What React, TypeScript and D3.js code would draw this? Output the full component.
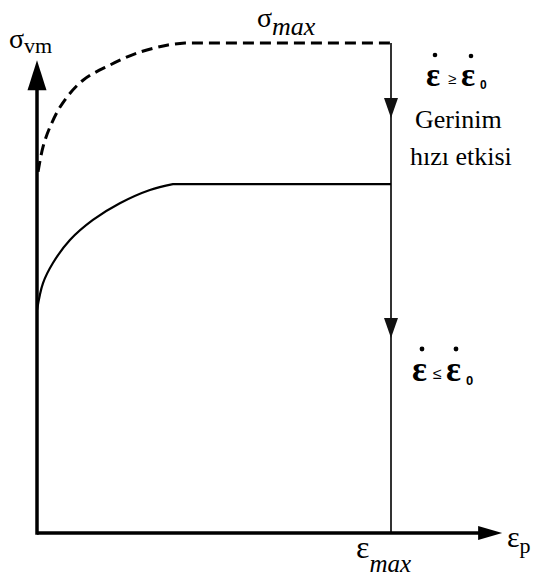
import React from "react";
import * as d3 from "d3";

// Normalised plastic strain (εp / εmax) and von Mises stress (σ / σmax)
const highRateStrain = [0.003, 0.017, 0.037, 0.073, 0.13, 0.206, 0.285, 0.37, 0.418, 1.0];
const highRateStress = [0.737, 0.788, 0.829, 0.878, 0.924, 0.955, 0.98, 0.996, 1.0, 1.0];

const lowRateStrain = [0.0, 0.017, 0.045, 0.093, 0.158, 0.234, 0.319, 0.384, 1.0];
const lowRateStress = [0.455, 0.51, 0.551, 0.598, 0.639, 0.673, 0.7, 0.712, 0.712];

const AXIS_X_END = 1.314; // εp axis extent, in εmax units
const AXIS_Y_END = 0.965; // σvm axis extent, in σmax units
const STRAIN_MAX = 1.0;
const STRESS_MAX = 1.0;

const W = 541;
const H = 576;

export default function App() {
  const x = d3.scaleLinear().domain([0, 1]).range([37, 391]);
  const y = d3.scaleLinear().domain([0, 1]).range([533, 43]);

  const toPts = (xs: number[], ys: number[]) => xs.map((v, i) => [v, ys[i]] as [number, number]);
  const curve = d3
    .line<[number, number]>()
    .x((d) => x(d[0]))
    .y((d) => y(d[1]))
    .curve(d3.curveCatmullRom.alpha(0.5));

  // hardening arc followed by a straight saturation plateau
  const hardeningPath = (xs: number[], ys: number[]) => {
    const pts = toPts(xs, ys);
    const last = pts[pts.length - 1];
    return (curve(pts.slice(0, -1)) || "") + `L${x(last[0])},${y(last[1])}`;
  };

  const highPath = hardeningPath(highRateStrain, highRateStress);
  const lowPath = hardeningPath(lowRateStrain, lowRateStress);

  const x0 = x(0);
  const y0 = y(0);
  const xEnd = x(AXIS_X_END);
  const yEnd = y(AXIS_Y_END);
  const xMax = x(STRAIN_MAX);
  const yMax = y(STRESS_MAX);

  const downArrow = (cy: number) =>
    `M${xMax - 7},${cy - 10} L${xMax + 7},${cy - 10} L${xMax},${cy + 10} Z`;

  const serif = "'Liberation Serif', 'DejaVu Serif', serif";
  const sans = "'Liberation Sans', 'DejaVu Sans', sans-serif";

  return (
    <svg width={W} height={H} style={{ position: "absolute", left: 0, top: 0 }}>
      <rect width={W} height={H} fill="#fff" />

      {/* strain-rate drop line at εmax */}
      <line x1={xMax} y1={yMax} x2={xMax} y2={y0} stroke="#333" strokeWidth={2} />
      <path d={downArrow(108)} fill="#111" />
      <path d={downArrow(328)} fill="#111" />

      {/* stress–strain curves */}
      <path d={highPath} fill="none" stroke="#000" strokeWidth={3} strokeDasharray="11 6" />
      <path d={lowPath} fill="none" stroke="#000" strokeWidth={2.2} />

      {/* axes */}
      <line x1={x0} y1={y0} x2={xEnd - 20} y2={y0} stroke="#000" strokeWidth={3.5} />
      <path d={`M${xEnd},${y0} L${xEnd - 24},${y0 - 7} L${xEnd - 24},${y0 + 7} Z`} fill="#000" />
      <line x1={x0} y1={y0 + 1.75} x2={x0} y2={yEnd + 25} stroke="#000" strokeWidth={3.5} />
      <path d={`M${x0},${yEnd} L${x0 - 9.5},${yEnd + 30} L${x0 + 9.5},${yEnd + 30} Z`} fill="#000" />

      {/* axis titles */}
      <text x={9} y={48} fontFamily={serif} fontSize={28} fill="#000">
        σ<tspan fontSize={22} dy={5}>vm</tspan>
      </text>
      <text x={507} y={547} fontFamily={serif} fontSize={30} fill="#000">
        ε<tspan fontSize={22} dy={6}>p</tspan>
      </text>

      {/* extreme values */}
      <text x={257} y={27} fontFamily={serif} fontSize={28} fill="#000">
        σ<tspan fontSize={26} fontStyle="italic" dy={8}>max</tspan>
      </text>
      <text x={356} y={558} fontFamily={serif} fontSize={32} fill="#000">
        ε<tspan fontSize={25} fontStyle="italic" dy={14}>max</tspan>
      </text>

      {/* high strain rate */}
      <text y={86} fontFamily={serif} fontWeight="bold" fontSize={33} fill="#000">
        <tspan x={426}>ε</tspan>
        <tspan x={448} fontFamily={sans} fontWeight="normal" fontSize={15} dy={-2}>≥</tspan>
        <tspan x={461} dy={2}>ε</tspan>
        <tspan x={480} fontFamily={sans} fontSize={12} dy={3}>0</tspan>
      </text>
      <circle cx={435} cy={55} r={2.3} fill="#000" />
      <circle cx={471} cy={56} r={2.3} fill="#000" />

      <text x={415} y={128} fontFamily={serif} fontSize={26} fill="#000">Gerinim</text>
      <text x={410} y={165} fontFamily={serif} fontSize={26} fill="#000">hızı etkisi</text>

      {/* low strain rate */}
      <text y={381} fontFamily={serif} fontWeight="bold" fontSize={35} fill="#000">
        <tspan x={412}>ε</tspan>
        <tspan x={433} fontFamily={sans} fontWeight="normal" fontSize={16} dy={-2}>≤</tspan>
        <tspan x={446} dy={2}>ε</tspan>
        <tspan x={466} fontFamily={sans} fontSize={13} dy={4}>0</tspan>
      </text>
      <circle cx={422} cy={349} r={2.4} fill="#000" />
      <circle cx={456} cy={349} r={2.4} fill="#000" />
    </svg>
  );
}
